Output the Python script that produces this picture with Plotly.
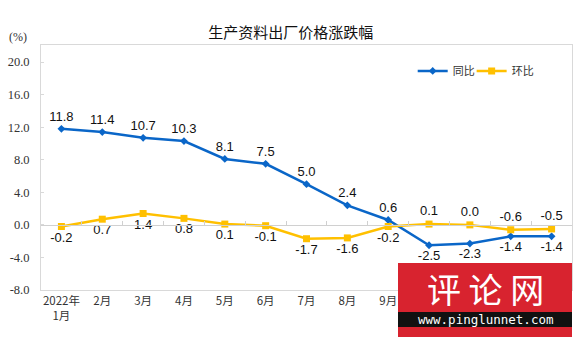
import plotly.graph_objects as go

categories = ["2022年<br>1月", "2月", "3月", "4月", "5月", "6月", "7月", "8月", "9月",
              "10月", "11月", "12月", "2023年<br>1月"]
yoy = [11.8, 11.4, 10.7, 10.3, 8.1, 7.5, 5.0, 2.4, 0.6, -2.5, -2.3, -1.4, -1.4]
mom = [-0.2, 0.7, 1.4, 0.8, 0.1, -0.1, -1.7, -1.6, -0.2, 0.1, 0.0, -0.6, -0.5]
yoy_pos = ["top center"] * 9 + ["bottom center"] * 4
mom_pos = ["bottom center"] * 9 + ["top center"] * 4
y_ticks = [-8, -4, 0, 4, 8, 12, 16, 20]

BLUE = "#0a66c8"
YELLOW = "#ffc000"
YMIN, YMAX = -8, 22.1

fig = go.Figure()
fig.add_trace(go.Scatter(
    x=categories, y=yoy, name="同比", mode="lines+markers+text", legend="legend",
    line=dict(color=BLUE, width=2.5),
    marker=dict(symbol="diamond", size=6, color=BLUE),
    text=[f"{v:.1f}" for v in yoy], textposition=yoy_pos,
    textfont=dict(family="Liberation Sans, Arial", size=13, color="#111"),
))
fig.add_trace(go.Scatter(
    x=categories, y=mom, name="环比", mode="lines+markers+text", legend="legend2",
    line=dict(color=YELLOW, width=2.5),
    marker=dict(symbol="square", size=7, color=YELLOW),
    text=[f"{v:.1f}" for v in mom], textposition=mom_pos,
    textfont=dict(family="Liberation Sans, Arial", size=13, color="#111"),
))
# invisible trace for the zero-line axis with boundary ticks
fig.add_trace(go.Scatter(x=categories, y=[0] * len(categories), xaxis="x2",
                         mode="none", showlegend=False, hoverinfo="skip"))

legend_common = dict(orientation="h", y=0.894, xanchor="left", yanchor="middle",
                     font=dict(family="Noto Sans CJK SC", size=11, color="#333"),
                     bgcolor="rgba(0,0,0,0)", itemwidth=30)

fig.update_layout(
    width=576, height=343,
    margin=dict(l=41, r=4, t=45, b=53),
    paper_bgcolor="white", plot_bgcolor="white",
    title=dict(text="生产资料出厂价格涨跌幅", x=0.505, xanchor="center", y=0.905, yanchor="middle",
               font=dict(family="Noto Sans CJK SC", size=15, color="#111")),
    showlegend=True,
    legend=dict(x=0.700, **legend_common),
    legend2=dict(x=0.811, **legend_common),
    xaxis=dict(type="category", showgrid=False, zeroline=False, showline=True,
               linecolor="#d9d9d9", linewidth=1, mirror=True, ticks="",
               tickfont=dict(family="Noto Sans CJK SC", size=11.5, color="#333"),
               range=[-0.5, len(categories) - 0.5]),
    xaxis2=dict(type="category", overlaying="x", anchor="free",
                position=(0 - YMIN) / (YMAX - YMIN), side="bottom",
                showline=True, linecolor="#d0d0d0", linewidth=1,
                ticks="inside", ticklen=4, tickcolor="#d0d0d0", tickson="boundaries",
                showticklabels=False, showgrid=False, zeroline=False,
                range=[-0.5, len(categories) - 0.5]),
    yaxis=dict(range=[YMIN, YMAX], tickvals=y_ticks, ticktext=[f"{v:.1f}" for v in y_ticks],
               showgrid=False, zeroline=False, showline=True, linecolor="#d9d9d9",
               linewidth=1, mirror=True, ticks="inside", ticklen=3, tickcolor="#d9d9d9",
               ticklabelstandoff=8,
               tickfont=dict(family="Liberation Serif, Times New Roman", size=12.5, color="#333")),
    annotations=[
        dict(text="(%)", xref="paper", yref="paper", x=-0.043, y=(290 - 37) / 245, xanchor="center",
             yanchor="middle", showarrow=False,
             font=dict(family="Liberation Serif", size=12, color="#333")),
    ],
)

# watermark overlay seen in the reference
fig.add_shape(type="rect", xref="paper", yref="paper", x0=(398 - 41) / 531, x1=(572 - 41) / 531,
              y0=(290 - 337) / 245, y1=(290 - 263) / 245, fillcolor="#d8232f",
              line=dict(width=0), layer="above")
fig.add_shape(type="rect", xref="paper", yref="paper", x0=(398 - 41) / 531, x1=(572 - 41) / 531,
              y0=(290 - 327) / 245, y1=(290 - 312) / 245, fillcolor="#111111",
              line=dict(width=0), layer="above")
fig.add_annotation(text="评 论 网", xref="paper", yref="paper", x=(485 - 41) / 531,
                   y=(290 - 288) / 245, showarrow=False, xanchor="center", yanchor="middle",
                   font=dict(family="Noto Sans CJK SC", size=34, color="white"))
fig.add_annotation(text="www.pinglunnet.com", xref="paper", yref="paper", x=(485 - 41) / 531,
                   y=(290 - 319.5) / 245, showarrow=False, xanchor="center", yanchor="middle",
                   font=dict(family="DejaVu Sans Mono", size=12.5, color="white"))

fig.write_html("out.html")
